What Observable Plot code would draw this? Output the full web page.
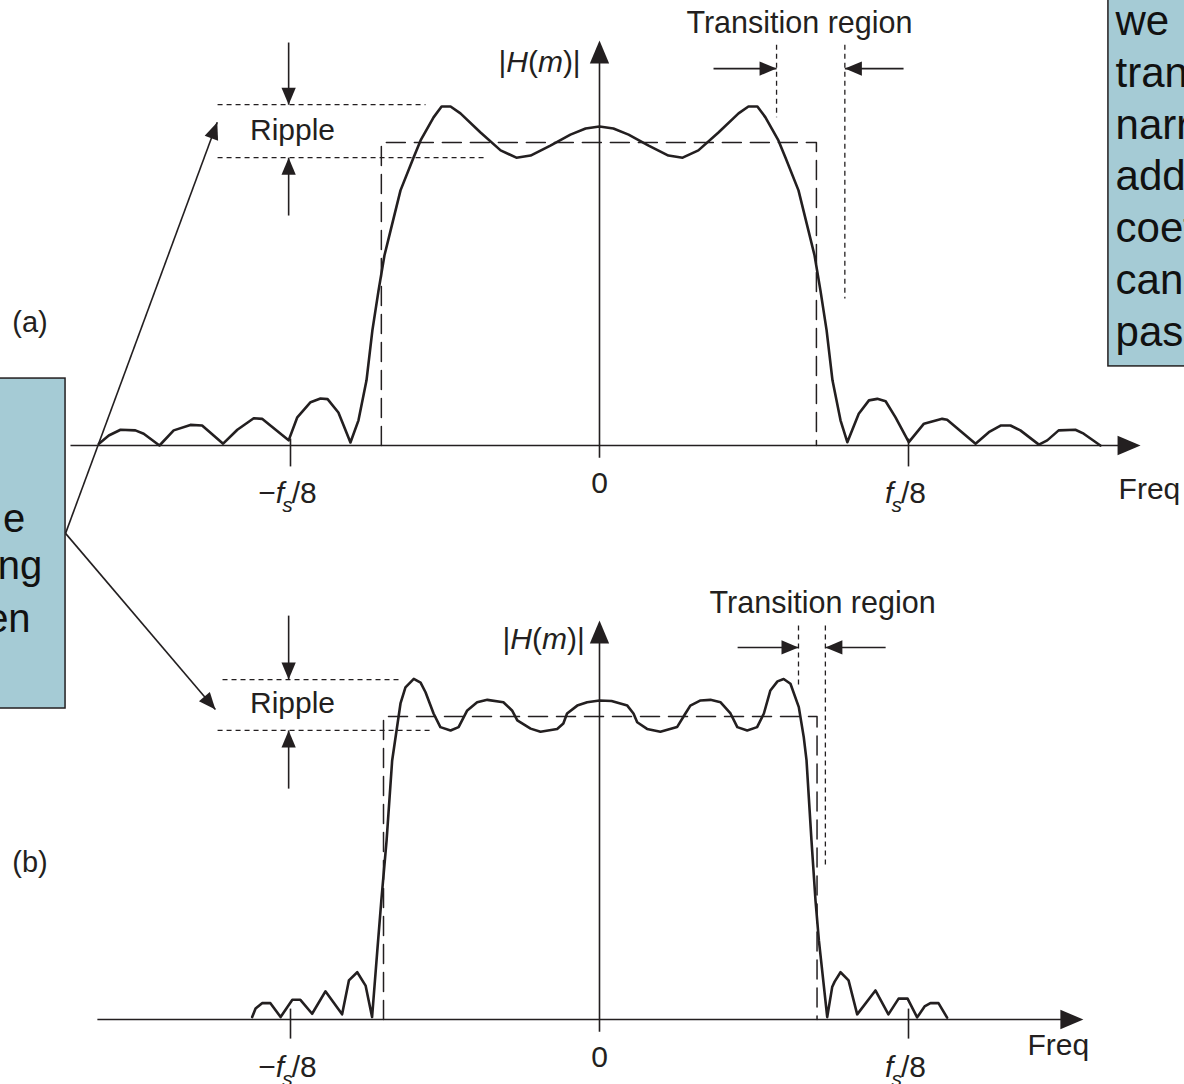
<!DOCTYPE html>
<html><head><meta charset="utf-8">
<script src="https://cdn.jsdelivr.net/npm/d3@7"></script>
<script src="https://cdn.jsdelivr.net/npm/@observablehq/plot@0.6"></script>
<style>
html,body{margin:0;padding:0;background:#fff;}
#chart svg{display:block;}
</style></head><body><div id="chart"></div>
<script>
// ---------- DATA (frequency in units of fs/8, magnitude relative to ideal passband gain = 1) ----------
// (a) response
const freqA = [-1.620,-1.588,-1.550,-1.502,-1.475,-1.424,-1.378,-1.324,-1.286,-1.218,-1.172,-1.119,-1.092,-1.006,-0.978,-0.935,-0.903,-0.880,-0.845,-0.828,-0.806,-0.780,-0.754,-0.735,-0.715,-0.696,-0.676,-0.644,-0.602,-0.579,-0.537,-0.511,-0.482,-0.450,-0.385,-0.320,-0.269,-0.223,-0.159,-0.094,-0.045,0,
  0.045,0.094,0.159,0.223,0.269,0.320,0.385,0.450,0.482,0.511,0.537,0.579,0.602,0.644,0.676,0.696,0.715,0.735,0.754,0.780,0.802,0.839,0.872,0.899,0.926,0.958,1.001,1.050,1.109,1.125,1.217,1.260,1.298,1.330,1.362,1.422,1.449,1.486,1.540,1.567,1.621];
const magA = [0.006,0.033,0.052,0.050,0.039,0.000,0.050,0.068,0.066,0.006,0.052,0.090,0.088,0.017,0.093,0.143,0.155,0.153,0.109,0.066,0.010,0.083,0.215,0.380,0.512,0.627,0.710,0.842,0.950,1.007,1.083,1.119,1.119,1.096,1.033,0.974,0.950,0.957,0.990,1.026,1.046,1.053,
  1.046,1.026,0.990,0.957,0.950,0.974,1.033,1.096,1.119,1.119,1.083,1.007,0.950,0.842,0.710,0.627,0.512,0.380,0.215,0.083,0.011,0.105,0.149,0.154,0.146,0.093,0.011,0.072,0.088,0.085,0.006,0.044,0.066,0.066,0.050,0.003,0.017,0.050,0.052,0.039,0.000];
// (b) response
const freqB = [-1.124,-1.113,-1.092,-1.065,-1.032,-0.994,-0.968,-0.930,-0.887,-0.833,-0.811,-0.784,-0.757,-0.736,-0.719,-0.706,-0.689,-0.671,-0.644,-0.628,-0.601,-0.579,-0.563,-0.537,-0.515,-0.482,-0.456,-0.428,-0.396,-0.363,-0.311,-0.283,-0.266,-0.223,-0.191,-0.137,-0.117,-0.105,-0.072,-0.040,0,
  0.039,0.090,0.110,0.122,0.154,0.197,0.251,0.278,0.294,0.327,0.359,0.392,0.424,0.446,0.478,0.510,0.532,0.553,0.576,0.596,0.618,0.645,0.661,0.670,0.686,0.699,0.710,0.737,0.753,0.761,0.780,0.806,0.834,0.893,0.935,0.968,0.997,1.028,1.052,1.071,1.097,1.125];
const magB = [0.008,0.036,0.054,0.054,0.008,0.065,0.065,0.019,0.093,0.017,0.129,0.156,0.112,0.008,0.228,0.393,0.591,0.855,1.043,1.096,1.124,1.112,1.080,1.010,0.965,0.954,0.965,1.020,1.047,1.055,1.047,1.020,0.987,0.960,0.950,0.959,0.977,1.010,1.036,1.047,1.053,
  1.051,1.036,1.010,0.981,0.959,0.950,0.965,1.010,1.036,1.053,1.055,1.047,1.010,0.965,0.954,0.965,1.010,1.086,1.116,1.124,1.108,1.031,0.932,0.855,0.591,0.393,0.261,0.008,0.107,0.125,0.156,0.129,0.017,0.096,0.017,0.069,0.069,0.007,0.043,0.054,0.054,0.006];
// ideal (dashed) response edges
const cutoffA = [-0.706, 0.702];
const cutoffB = [-0.699, 0.704];
// ripple guide levels (min, max)
const rippleA = [0.950, 1.125];
const rippleB = [0.954, 1.122];
// transition-region edges
const transitionA = [0.573, 0.794];
const transitionB = [0.644, 0.731];
// axis ticks
const tickValues = [-1, 0, 1];
const tickLabels = ["−f_s/8", "0", "f_s/8"];
// callout text (cut off by the picture edge)
const leftNoteLines = ["e", "ng", "en"];
const rightNoteLines = ["we", "transition", "narrower", "adding", "coefficients", "can", "passband"];

// ---------- LAYOUT ----------
const W = 1184, H = 1084;
const X_DOMAIN = [-1.9385, 1.8932];
const Y_DOMAIN = [-2.1089, 1.4687];
const SHIFT = {a: 0, b: -1.8944};
const kx = W / (X_DOMAIN[1] - X_DOMAIN[0]);
const ky = H / (Y_DOMAIN[1] - Y_DOMAIN[0]);
const ink = "#231f20";
const boxFill = "#a5cbd5";
const FONT = "'Liberation Sans', Arial, Helvetica, sans-serif";
const Y = (p, v) => v + SHIFT[p];

const curveA = freqA.map((f, i) => ({x: f, y: Y("a", magA[i])}));
const curveB = freqB.map((f, i) => ({x: f, y: Y("b", magB[i])}));
const ideal = (p, c) => [{x: c[0], y: Y(p, 0)}, {x: c[0], y: Y(p, 1)}, {x: c[1], y: Y(p, 1)}, {x: c[1], y: Y(p, 0)}];

// solid axis lines
const axisSegs = [
  {x1: -1.712, y1: Y("a", 0), x2: 1.74, y2: Y("a", 0)},
  {x1: -1.625, y1: Y("b", 0), x2: 1.555, y2: Y("b", 0)},
  {x1: 0, y1: Y("a", -0.040), x2: 0, y2: Y("a", 1.32)},
  {x1: 0, y1: Y("b", -0.040), x2: 0, y2: Y("b", 1.30)},
  ...[-1, 1].map(t => ({x1: t, y1: Y("a", 0.023), x2: t, y2: Y("a", -0.069)})),
  ...[-1, 1].map(t => ({x1: t, y1: Y("b", 0.036), x2: t, y2: Y("b", -0.063)}))
];
// dotted guides
const guideSegs = [
  {x1: -1.236, y1: Y("a", rippleA[1]), x2: -0.563, y2: Y("a", rippleA[1])},
  {x1: -1.236, y1: Y("a", rippleA[0]), x2: -0.375, y2: Y("a", rippleA[0])},
  {x1: -1.220, y1: Y("b", rippleB[1]), x2: -0.650, y2: Y("b", rippleB[1])},
  {x1: -1.236, y1: Y("b", rippleB[0]), x2: -0.540, y2: Y("b", rippleB[0])},
  {x1: transitionA[0], y1: Y("a", 1.323), x2: transitionA[0], y2: Y("a", 1.083)},
  {x1: transitionA[1], y1: Y("a", 1.323), x2: transitionA[1], y2: Y("a", 0.485)},
  {x1: transitionB[0], y1: Y("b", 1.300), x2: transitionB[0], y2: Y("b", 1.096)},
  {x1: transitionB[1], y1: Y("b", 1.300), x2: transitionB[1], y2: Y("b", 0.498)}
];
// arrows (shaft start -> tip)
const arrowsSmall = [
  {x1: -1.006, y1: Y("a", 1.330), x2: -1.006, y2: Y("a", rippleA[1])},
  {x1: -1.006, y1: Y("a", 0.759), x2: -1.006, y2: Y("a", rippleA[0])},
  {x1: -1.006, y1: Y("b", 1.333), x2: -1.006, y2: Y("b", rippleB[1])},
  {x1: -1.006, y1: Y("b", 0.762), x2: -1.006, y2: Y("b", rippleB[0])},
  {x1: 0.369, y1: Y("a", 1.244), x2: transitionA[0], y2: Y("a", 1.244)},
  {x1: 0.984, y1: Y("a", 1.244), x2: transitionA[1], y2: Y("a", 1.244)},
  {x1: 0.447, y1: Y("b", 1.228), x2: transitionB[0], y2: Y("b", 1.228)},
  {x1: 0.926, y1: Y("b", 1.228), x2: transitionB[1], y2: Y("b", 1.228)},
  {x1: -1.728, y1: Y("a", -0.290), x2: -1.237, y2: Y("a", 1.067)},
  {x1: -1.728, y1: Y("a", -0.290), x2: -1.243, y2: Y("b", 1.023)}
];
const angle = d => Math.atan2((d.x2 - d.x1) * kx, (d.y2 - d.y1) * ky) * 180 / Math.PI;
const headsSmall = arrowsSmall.map(d => ({x: d.x2, y: d.y2, r: angle(d)}));
const headsAxis = [
  {x: 1.751, y: Y("a", 0), r: 90}, {x: 1.566, y: Y("b", 0), r: 90},
  {x: 0, y: Y("a", 1.337), r: 0}, {x: 0, y: Y("b", 1.317), r: 0}
];
const tri = ratio => ({draw(ctx, l) { const w = l * ratio; ctx.moveTo(0, -l); ctx.lineTo(w, 0); ctx.lineTo(-w, 0); ctx.closePath(); }});

// boxes
const boxes = [
  {x1: -2.1, x2: -1.728, y1: Y("a", 0.221), y2: Y("a", -0.868)},
  {x1: 1.647, x2: 2.1, y1: Y("a", 0.261), y2: Y("a", 1.55)}
];

// labels
const labelsMid = [
  {t: "Transition region", x: 0.647, y: Y("a", 1.363), s: 30.5},
  {t: "Ripple", x: -0.9935, y: Y("a", 1.007), s: 30},
  {t: "|H(m)|", x: -0.194, y: Y("a", 1.234), s: 30},
  {t: "(a)", x: -1.843, y: Y("a", 0.376), s: 29},
  {t: "Transition region", x: 0.722, y: Y("b", 1.343), s: 30.5},
  {t: "Ripple", x: -0.9935, y: Y("b", 1.013), s: 30},
  {t: "|H(m)|", x: -0.181, y: Y("b", 1.224), s: 30},
  {t: "(b)", x: -1.843, y: Y("b", 0.488), s: 29}
];
const labelsStart = [
  {t: "Freq", x: 1.680, y: Y("a", -0.178)},
  {t: "Freq", x: 1.385, y: Y("b", -0.1155)}
];
const tickRows = ["a", "b"].flatMap(p => tickValues.map((v, i) => ({x: v, y: Y(p, 0), t: tickLabels[i]})));
const leftNote = leftNoteLines.map((t, i) => ({t, x: [-1.858, -1.803, -1.841][i], y: Y("a", [-0.284, -0.439, -0.614][i])}));

const chart = Plot.plot({
  width: W, height: H, margin: 0,
  style: {background: "#fff", fontFamily: FONT, overflow: "hidden"},
  x: {domain: X_DOMAIN, axis: null},
  y: {domain: Y_DOMAIN, axis: null},
  marks: [
    Plot.rect(boxes, {x1: "x1", x2: "x2", y1: "y1", y2: "y2", fill: boxFill, stroke: ink, strokeWidth: 1.5}),
    Plot.text(leftNote, {x: "x", y: "y", text: "t", textAnchor: "end", lineAnchor: "bottom", fontSize: 40, fill: "#111"}),
    Plot.text([rightNoteLines.join("\n")], {x: 1.670, y: Y("a", 0.330), text: d => d, textAnchor: "start", lineAnchor: "bottom", lineHeight: 1.231, fontSize: 42, fill: "#111"}),
    Plot.link(axisSegs, {x1: "x1", y1: "y1", x2: "x2", y2: "y2", stroke: ink, strokeWidth: 1.6}),
    Plot.line(ideal("a", cutoffA), {x: "x", y: "y", stroke: ink, strokeWidth: 1.5, strokeDasharray: "19,9"}),
    Plot.line(ideal("b", cutoffB), {x: "x", y: "y", stroke: ink, strokeWidth: 1.5, strokeDasharray: "19,9"}),
    Plot.link(guideSegs, {x1: "x1", y1: "y1", x2: "x2", y2: "y2", stroke: ink, strokeWidth: 1.3, strokeDasharray: "5,4"}),
    Plot.line(curveA, {x: "x", y: "y", stroke: ink, strokeWidth: 2.6, strokeLinejoin: "round"}),
    Plot.line(curveB, {x: "x", y: "y", stroke: ink, strokeWidth: 2.6, strokeLinejoin: "round"}),
    Plot.link(arrowsSmall, {x1: "x1", y1: "y1", x2: "x2", y2: "y2", stroke: ink, strokeWidth: 1.6}),
    Plot.vector(headsSmall, {x: "x", y: "y", rotate: "r", length: 17, anchor: "end", shape: tri(0.42), fill: ink, stroke: "none"}),
    Plot.vector(headsAxis, {x: "x", y: "y", rotate: "r", length: 23, anchor: "end", shape: tri(0.42), fill: ink, stroke: "none"}),
    Plot.text(tickRows.filter(d => d.t !== "0"), {x: "x", y: "y", text: "t", dy: 57, dx: -3, lineAnchor: "bottom", fontSize: 30, fill: ink}),
    Plot.text(tickRows.filter(d => d.t === "0"), {x: "x", y: "y", text: "t", dy: 47, lineAnchor: "bottom", fontSize: 30, fill: ink}),
    Plot.text(labelsMid, {x: "x", y: "y", text: "t", fontSize: "s", lineAnchor: "bottom", fill: ink}),
    Plot.text(labelsStart, {x: "x", y: "y", text: "t", textAnchor: "start", lineAnchor: "bottom", fontSize: 30, fill: ink})
  ]
});

// rich text: italic symbols and subscripts
const NS = "http://www.w3.org/2000/svg";
function span(txt, attrs) { const s = document.createElementNS(NS, "tspan"); for (const k in attrs) s.setAttribute(k, attrs[k]); s.textContent = txt; return s; }
chart.querySelectorAll("text").forEach(t => {
  const s = t.textContent;
  if (s.includes("f_s")) {
    t.textContent = "";
    if (s.startsWith("−")) t.append("−");
    t.append(span("f", {"font-style": "italic"}));
    t.append(span("s", {"font-style": "italic", "font-size": "21", dy: "9", dx: "-2"}));
    t.append(span("/8", {dy: "-9", dx: "-1"}));
  } else if (s === "|H(m)|") {
    t.textContent = "";
    t.append("|");
    t.append(span("H", {"font-style": "italic"}));
    t.append("(");
    t.append(span("m", {"font-style": "italic"}));
    t.append(")|");
  }
});
document.getElementById("chart").append(chart);
</script></body></html>
